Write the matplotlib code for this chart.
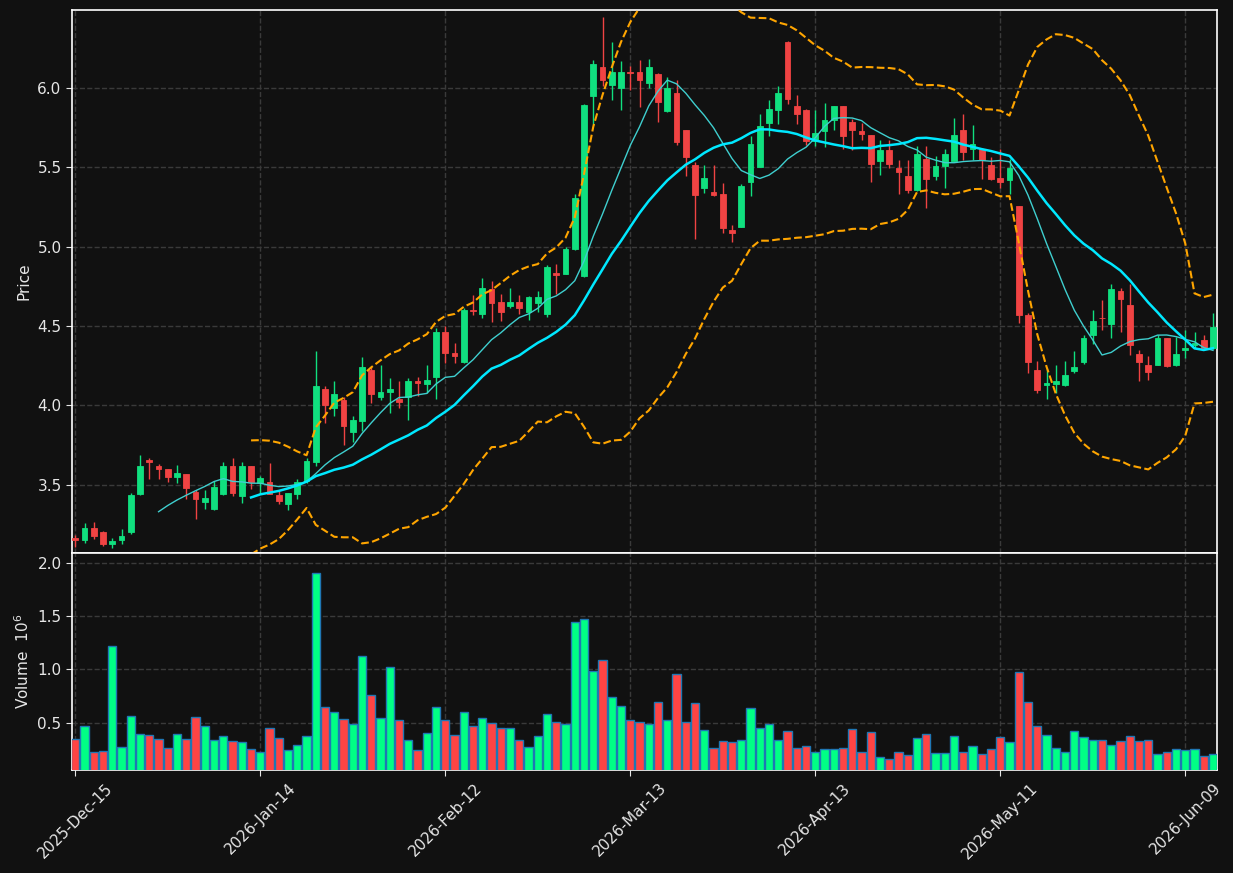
import numpy as np
import pandas as pd
import matplotlib
matplotlib.use("Agg")
import matplotlib.pyplot as plt

# ---------------- data ----------------
tick_labels = ["2025-Dec-15", "2026-Jan-14", "2026-Feb-12", "2026-Mar-13",
               "2026-Apr-13", "2026-May-11", "2026-Jun-09"]

opens = [3.165, 3.152, 3.226, 3.205, 3.127, 3.152, 3.200, 3.439, 3.655, 3.615,
         3.600, 3.548, 3.565, 3.454, 3.391, 3.347, 3.441, 3.621, 3.427, 3.615,
         3.512, 3.519, 3.433, 3.376, 3.441, 3.523, 3.646, 4.105, 3.981, 4.036,
         3.831, 3.900, 4.224, 4.055, 4.082, 4.042, 4.051, 4.155, 4.136, 4.176,
         4.463, 4.331, 4.270, 4.601, 4.578, 4.731, 4.649, 4.628, 4.649, 4.589,
         4.643, 4.576, 4.832, 4.829, 4.984, 4.815, 5.947, 6.134, 6.017, 5.998,
         6.102, 6.102, 6.033, 6.090, 5.857, 5.970, 5.732, 5.512, 5.370, 5.342,
         5.330, 5.104, 5.125, 5.407, 5.502, 5.780, 5.860, 6.289, 5.887, 5.862,
         5.665, 5.728, 5.799, 5.883, 5.782, 5.730, 5.700, 5.539, 5.610, 5.497,
         5.447, 5.355, 5.550, 5.445, 5.510, 5.539, 5.732, 5.617, 5.617, 5.512,
         5.430, 5.418, 5.254, 4.570, 4.224, 4.126, 4.136, 4.126, 4.218, 4.274,
         4.444, 4.553, 4.513, 4.718, 4.630, 4.325, 4.254, 4.256, 4.423, 4.251,
         4.346, 4.379, 4.411, 4.360]
highs = [3.181, 3.261, 3.268, 3.209, 3.167, 3.223, 3.445, 3.690, 3.669, 3.632,
         3.602, 3.625, 3.567, 3.468, 3.468, 3.521, 3.646, 3.669, 3.646, 3.621,
         3.558, 3.638, 3.460, 3.447, 3.537, 3.669, 4.344, 4.120, 4.155, 4.053,
         3.935, 4.304, 4.239, 4.254, 4.172, 4.155, 4.172, 4.178, 4.256, 4.490,
         4.501, 4.392, 4.611, 4.695, 4.800, 4.785, 4.702, 4.737, 4.695, 4.689,
         4.720, 4.882, 4.888, 4.999, 5.334, 5.901, 6.176, 6.448, 6.287, 6.169,
         6.140, 6.176, 6.182, 6.094, 6.071, 6.050, 5.734, 5.533, 5.512, 5.512,
         5.399, 5.135, 5.397, 5.696, 5.836, 5.920, 6.010, 6.295, 5.954, 5.866,
         5.862, 5.904, 5.887, 5.885, 5.805, 5.778, 5.702, 5.669, 5.673, 5.543,
         5.548, 5.633, 5.631, 5.568, 5.617, 5.811, 5.832, 5.763, 5.620, 5.564,
         5.617, 5.554, 5.256, 4.584, 4.277, 4.228, 4.256, 4.281, 4.344, 4.442,
         4.601, 4.664, 4.762, 4.737, 4.762, 4.346, 4.308, 4.444, 4.425, 4.430,
         4.476, 4.459, 4.442, 4.584]
lows = [3.110, 3.135, 3.161, 3.114, 3.104, 3.129, 3.190, 3.435, 3.537, 3.537,
        3.517, 3.512, 3.412, 3.286, 3.349, 3.341, 3.437, 3.431, 3.387, 3.475,
        3.450, 3.439, 3.378, 3.341, 3.412, 3.512, 3.617, 3.889, 3.931, 3.749,
        3.770, 3.841, 4.015, 4.032, 3.952, 3.984, 3.910, 4.057, 4.078, 4.040,
        4.266, 4.266, 4.268, 4.568, 4.549, 4.526, 4.530, 4.616, 4.574, 4.536,
        4.591, 4.559, 4.700, 4.827, 4.978, 4.811, 5.763, 6.014, 5.920, 5.862,
        5.983, 5.878, 6.000, 5.786, 5.847, 5.642, 5.445, 5.049, 5.338, 5.321,
        5.083, 5.026, 5.123, 5.321, 5.500, 5.698, 5.774, 5.895, 5.774, 5.638,
        5.631, 5.627, 5.732, 5.617, 5.610, 5.673, 5.407, 5.449, 5.497, 5.328,
        5.340, 5.353, 5.240, 5.422, 5.372, 5.537, 5.543, 5.543, 5.426, 5.422,
        5.372, 5.330, 4.517, 4.203, 4.078, 4.040, 4.078, 4.124, 4.203, 4.260,
        4.388, 4.475, 4.423, 4.461, 4.314, 4.153, 4.161, 4.254, 4.239, 4.249,
        4.298, 4.360, 4.354, 4.358]
closes = [3.154, 3.226, 3.177, 3.127, 3.144, 3.175, 3.433, 3.621, 3.646, 3.598,
          3.548, 3.571, 3.477, 3.410, 3.414, 3.483, 3.615, 3.448, 3.615, 3.517,
          3.544, 3.443, 3.395, 3.445, 3.519, 3.651, 4.124, 4.000, 4.071, 3.868,
          3.910, 4.243, 4.069, 4.084, 4.105, 4.019, 4.155, 4.138, 4.161, 4.463,
          4.327, 4.308, 4.601, 4.595, 4.739, 4.647, 4.591, 4.649, 4.616, 4.683,
          4.685, 4.871, 4.819, 4.984, 5.305, 5.889, 6.153, 6.050, 6.102, 6.102,
          6.096, 6.046, 6.134, 5.910, 6.000, 5.656, 5.564, 5.323, 5.430, 5.326,
          5.118, 5.083, 5.380, 5.648, 5.761, 5.868, 5.970, 5.928, 5.834, 5.667,
          5.715, 5.799, 5.883, 5.696, 5.736, 5.707, 5.522, 5.610, 5.522, 5.470,
          5.359, 5.581, 5.426, 5.510, 5.581, 5.700, 5.596, 5.648, 5.548, 5.426,
          5.407, 5.497, 4.566, 4.270, 4.099, 4.143, 4.155, 4.193, 4.241, 4.425,
          4.532, 4.547, 4.731, 4.668, 4.377, 4.270, 4.208, 4.423, 4.249, 4.325,
          4.360, 4.392, 4.364, 4.494]
volumes_m = [0.343, 0.465, 0.220, 0.229, 1.218, 0.267, 0.559, 0.390, 0.380, 0.343,
             0.258, 0.390, 0.343, 0.550, 0.465, 0.333, 0.371, 0.324, 0.314, 0.248,
             0.220, 0.446, 0.352, 0.239, 0.286, 0.371, 1.905, 0.644, 0.597, 0.531,
             0.484, 1.124, 0.757, 0.540, 1.020, 0.521, 0.333, 0.239, 0.399, 0.644,
             0.521, 0.380, 0.597, 0.465, 0.540, 0.493, 0.446, 0.446, 0.333, 0.267,
             0.371, 0.578, 0.503, 0.484, 1.444, 1.472, 0.983, 1.086, 0.738, 0.653,
             0.521, 0.503, 0.484, 0.691, 0.521, 0.954, 0.503, 0.681, 0.427, 0.258,
             0.324, 0.314, 0.333, 0.634, 0.446, 0.484, 0.333, 0.418, 0.258, 0.277,
             0.220, 0.248, 0.248, 0.258, 0.437, 0.220, 0.408, 0.173, 0.154, 0.220,
             0.192, 0.352, 0.390, 0.211, 0.211, 0.371, 0.220, 0.277, 0.201, 0.248,
             0.361, 0.314, 0.973, 0.691, 0.465, 0.380, 0.258, 0.220, 0.418, 0.361,
             0.333, 0.333, 0.286, 0.324, 0.371, 0.324, 0.333, 0.201, 0.220, 0.248,
             0.239, 0.248, 0.182, 0.201]

# ---------------- styling ----------------
BG = "#111111"
UP_C, DN_C = "#10e07f", "#f04343"
UP_V, DN_V = "#00ff85", "#ff4444"
TXT = "#e6e6e6"
GRID = "#3a3a3a"

df = pd.DataFrame({"o": opens, "h": highs, "l": lows, "c": closes, "v": volumes_m})
x = np.arange(len(df))
up = df["c"] >= df["o"]

ma10 = df["c"].rolling(10).mean()
ma20 = df["c"].rolling(20).mean()
sd20 = df["c"].rolling(20).std(ddof=0)
bb_up = ma20 + 2 * sd20
bb_dn = ma20 - 2 * sd20

W, H = 1233, 873
fig = plt.figure(figsize=(W / 100, H / 100), dpi=100, facecolor=BG)
left, right = 72 / W, 1216.7 / W
ax = fig.add_axes([left, 1 - 553 / H, right - left, (553 - 10) / H])
axv = fig.add_axes([left, 1 - 770 / H, right - left, (770 - 553) / H], sharex=ax)

for a in (ax, axv):
    a.set_facecolor(BG)
    for s in a.spines.values():
        s.set_color("white")
        s.set_linewidth(1.2)
    a.tick_params(colors=TXT, labelsize=11, length=4)
    a.grid(True, color=GRID, linestyle="--", linewidth=1)
    a.set_axisbelow(True)

# candles
cols = np.where(up, UP_C, DN_C)
ax.vlines(x, df["l"], df["h"], colors=cols, linewidth=1, zorder=2)
body_lo = np.minimum(df["o"], df["c"])
body_h = np.maximum(np.abs(df["c"] - df["o"]), 0.006)
ax.bar(x, body_h, bottom=body_lo, width=0.62, color=cols, edgecolor=cols,
       linewidth=0.6, zorder=3)

# moving averages and bands
ax.plot(x, ma10, color="#3fcfcf", linewidth=1.0, zorder=4)
ax.plot(x, ma20, color="#00e8ff", linewidth=1.8, zorder=4)
ax.plot(x, bb_up, color="#ffa500", linewidth=1.5, linestyle="--", zorder=4)
ax.plot(x, bb_dn, color="#ffa500", linewidth=1.5, linestyle="--", zorder=4)

ax.set_ylim(3.07, 6.49)
ax.set_yticks([3.5, 4.0, 4.5, 5.0, 5.5, 6.0])
ax.set_ylabel("Price", color=TXT, fontsize=11)
plt.setp(ax.get_xticklabels(), visible=False)

# volume
vcols = np.where(up, UP_V, DN_V)
axv.bar(x, df["v"], width=0.9, color=vcols, edgecolor="#1f77b4", linewidth=1.0,
        zorder=3)
axv.set_ylim(0.054, 2.096)
axv.set_yticks([0.5, 1.0, 1.5, 2.0])
axv.set_ylabel("Volume  $10^{6}$", color=TXT, fontsize=11)

axv.set_xlim(-0.36, 123.4)
axv.set_xticks(np.arange(0, 121, 20))
axv.set_xticklabels(tick_labels, rotation=45, fontsize=11, color=TXT)

fig.savefig("out.png", dpi=100, facecolor=BG)
